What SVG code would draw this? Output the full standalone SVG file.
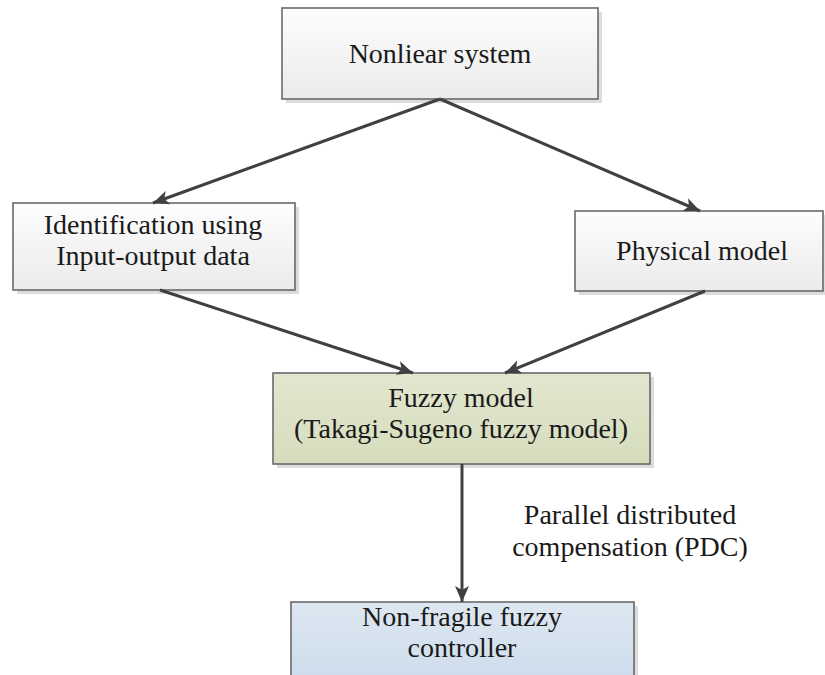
<svg xmlns="http://www.w3.org/2000/svg" width="825" height="675" viewBox="0 0 825 675">
<defs>
<linearGradient id="gGray" x1="0" y1="0" x2="0" y2="1">
<stop offset="0" stop-color="#fdfdfd"/>
<stop offset="1" stop-color="#ebebeb"/>
</linearGradient>
<linearGradient id="gGreen" x1="0" y1="0" x2="0" y2="1">
<stop offset="0" stop-color="#e2e6cf"/>
<stop offset="1" stop-color="#d6ddbd"/>
</linearGradient>
<linearGradient id="gBlue" x1="0" y1="0" x2="0" y2="1">
<stop offset="0" stop-color="#dde7f1"/>
<stop offset="1" stop-color="#cddcec"/>
</linearGradient>
<marker id="arr" markerUnits="userSpaceOnUse" markerWidth="20" markerHeight="16" refX="16" refY="8" orient="auto">
<path d="M0,1 L16,8 L0,15 L4,8 Z" fill="#404040"/>
</marker>
</defs>
<style>
.box{stroke:#6a6a6a;stroke-width:1.6}
.shadow{fill:#dcdcdc}
.t{font-family:"Liberation Serif","Times New Roman",serif;font-size:28px;fill:#1a1a1a;text-anchor:middle}
.c{stroke:#404040;stroke-width:3;fill:none;marker-end:url(#arr)}
</style>
<rect width="825" height="675" fill="#ffffff"/>
<g id="n-nonlinear">
<rect class="shadow" x="286" y="12" width="316" height="91"/>
<rect class="box" x="282" y="8" width="316" height="91" fill="url(#gGray)"/>
<text class="t" x="440" y="63">Nonliear system</text>
</g>
<g id="n-identification">
<rect class="shadow" x="17" y="207" width="282" height="87"/>
<rect class="box" x="13" y="203" width="282" height="87" fill="url(#gGray)"/>
<text class="t" x="153" y="234">Identification using</text>
<text class="t" x="153" y="265">Input-output data</text>
</g>
<g id="n-physical">
<rect class="shadow" x="579" y="215" width="248" height="80"/>
<rect class="box" x="575" y="211" width="248" height="80" fill="url(#gGray)"/>
<text class="t" x="702" y="260">Physical model</text>
</g>
<g id="n-fuzzy">
<rect class="shadow" x="277" y="377" width="377" height="91"/>
<rect class="box" x="273" y="373" width="377" height="91" fill="url(#gGreen)"/>
<text class="t" x="461" y="407">Fuzzy model</text>
<text class="t" x="461" y="438">(Takagi-Sugeno fuzzy model)</text>
</g>
<g id="n-controller">
<rect class="shadow" x="295" y="606" width="343" height="80"/>
<rect class="box" x="291" y="602" width="343" height="80" fill="url(#gBlue)"/>
<text class="t" x="462" y="626">Non-fragile fuzzy</text>
<text class="t" x="462" y="657">controller</text>
</g>
<g id="connectors">
<line class="c" x1="440" y1="99" x2="153" y2="203"/>
<line class="c" x1="440" y1="99" x2="700" y2="211"/>
<line class="c" x1="160" y1="290" x2="413" y2="373"/>
<line class="c" x1="705" y1="291" x2="505" y2="373"/>
<line class="c" x1="462" y1="464" x2="462" y2="602"/>
<text class="t" x="630" y="524">Parallel distributed</text>
<text class="t" x="630" y="556">compensation (PDC)</text>
</g>
</svg>
